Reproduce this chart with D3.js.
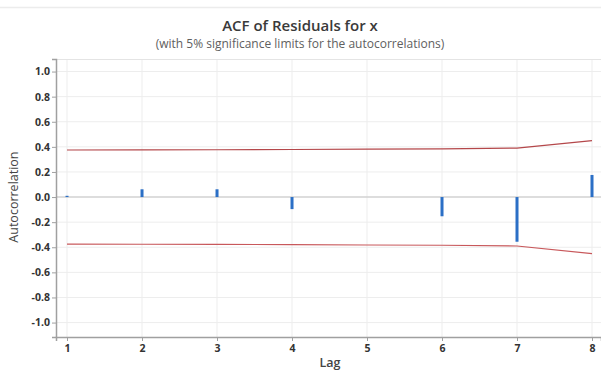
<!DOCTYPE html>
<html lang="en">
  <head>
    <meta charset="utf-8" />
    <script src="https://d3js.org/d3.v7.min.js"></script>
    <style type="text/css">
      body {
        margin: 0;
        background: white;
      }
      svg#acf {
        display: block;
        font-family: "Open Sans", "Noto Sans", sans-serif;
      }
    </style>
  </head>

  <body>
    <svg id="acf" width="601" height="372"></svg>

    <script>
      // lags and the residual autocorrelations
      let lags = [1, 2, 3, 4, 5, 6, 7, 8];
      let acf = [0.01, 0.062, 0.062, -0.096, 0.0, -0.153, -0.356, 0.176];
      // 5% significance limits (upper; the lower one is the mirror)
      let upperLimit = [0.375, 0.376, 0.377, 0.379, 0.382, 0.384, 0.39, 0.45];
      let yTicks = [-1.0, -0.8, -0.6, -0.4, -0.2, 0.0, 0.2, 0.4, 0.6, 0.8, 1.0];

      let svg = d3.select("#acf");

      // page rule at the very top
      svg.append("line")
        .attr("x1", 0).attr("x2", 601)
        .attr("y1", 7.5).attr("y2", 7.5)
        .attr("stroke", "#ececec")
        .attr("stroke-width", 1.5);

      let plotLeft = 56, plotRight = 601, plotTop = 59, plotBottom = 337;

      let x = d3.scaleLinear([0.853, 8.12], [plotLeft, plotRight]);
      let y = d3.scaleLinear([-1.115, 1.1], [plotBottom, plotTop]);

      // gridlines
      let grid = svg.append("g");
      grid.selectAll("line.v")
        .data(lags)
        .enter()
        .append("line")
        .attr("x1", d => x(d)).attr("x2", d => x(d))
        .attr("y1", plotTop).attr("y2", plotBottom)
        .attr("stroke", "#ededed");
      grid.selectAll("line.h")
        .data(yTicks.filter(d => d !== 0))
        .enter()
        .append("line")
        .attr("x1", plotLeft).attr("x2", plotRight)
        .attr("y1", d => y(d)).attr("y2", d => y(d))
        .attr("stroke", "#ededed");
      grid.append("line")
        .attr("x1", plotLeft).attr("x2", plotRight)
        .attr("y1", plotTop + 0.5).attr("y2", plotTop + 0.5)
        .attr("stroke", "#e4e4e4");

      // zero reference line
      svg.append("line")
        .attr("x1", plotLeft).attr("x2", plotRight)
        .attr("y1", y(0)).attr("y2", y(0))
        .attr("stroke", "#d2d2d2")
        .attr("stroke-width", 1.5);

      // axes
      let yAxis = d3.axisLeft(y)
        .tickValues(yTicks)
        .tickFormat(d => d.toFixed(1))
        .tickSize(4)
        .tickPadding(2);
      let gy = svg.append("g")
        .attr("transform", "translate(" + plotLeft + ",0)")
        .call(yAxis);

      let xAxis = d3.axisBottom(x)
        .tickValues(lags)
        .tickFormat(d3.format("d"))
        .tickSize(4)
        .tickPadding(4);
      let gx = svg.append("g")
        .attr("transform", "translate(0," + plotBottom + ")")
        .call(xAxis);

      [gy, gx].forEach(function (g) {
        g.select(".domain").attr("stroke", "#a0a0a0").attr("stroke-width", 1.5);
        g.selectAll(".tick line").attr("stroke", "#a0a0a0");
        g.selectAll(".tick text")
          .attr("fill", "#333")
          .attr("font-size", 10.5)
          .attr("font-weight", "bold")
          .attr("font-family", "'Open Sans', 'Noto Sans', sans-serif");
      });

      // significance limits
      let limitLine = d3.line()
        .x((d, i) => x(lags[i]))
        .y(d => y(d));
      svg.append("path")
        .attr("d", limitLine(upperLimit))
        .attr("fill", "none")
        .attr("stroke", "#b4474a")
        .attr("stroke-width", 1.2);
      svg.append("path")
        .attr("d", limitLine(upperLimit.map(v => -v)))
        .attr("fill", "none")
        .attr("stroke", "#c8585b")
        .attr("stroke-width", 1.2);

      // acf spikes
      svg.append("g")
        .selectAll("rect")
        .data(acf)
        .enter()
        .append("rect")
        .attr("x", (d, i) => x(lags[i]) - 1.5)
        .attr("width", 3)
        .attr("y", d => Math.min(y(0), y(d)))
        .attr("height", d => Math.abs(y(d) - y(0)))
        .attr("fill", "#2b6fc6");

      // titles
      svg.append("text")
        .attr("x", 300).attr("y", 31)
        .attr("text-anchor", "middle")
        .attr("font-size", 15)
        .attr("font-weight", 600)
        .attr("fill", "#3a3a3a")
        .text("ACF of Residuals for x");
      svg.append("text")
        .attr("x", 300).attr("y", 48)
        .attr("text-anchor", "middle")
        .attr("font-size", 12)
        .attr("fill", "#606060")
        .text("(with 5% significance limits for the autocorrelations)");

      svg.append("text")
        .attr("x", 330).attr("y", 367)
        .attr("text-anchor", "middle")
        .attr("font-size", 12.5)
        .attr("font-weight", 600)
        .attr("fill", "#444")
        .text("Lag");
      svg.append("text")
        .attr("transform", "translate(18," + y(0) + ") rotate(-90)")
        .attr("text-anchor", "middle")
        .attr("font-size", 12.5)
        .attr("fill", "#444")
        .text("Autocorrelation");
    </script>
  </body>
</html>
